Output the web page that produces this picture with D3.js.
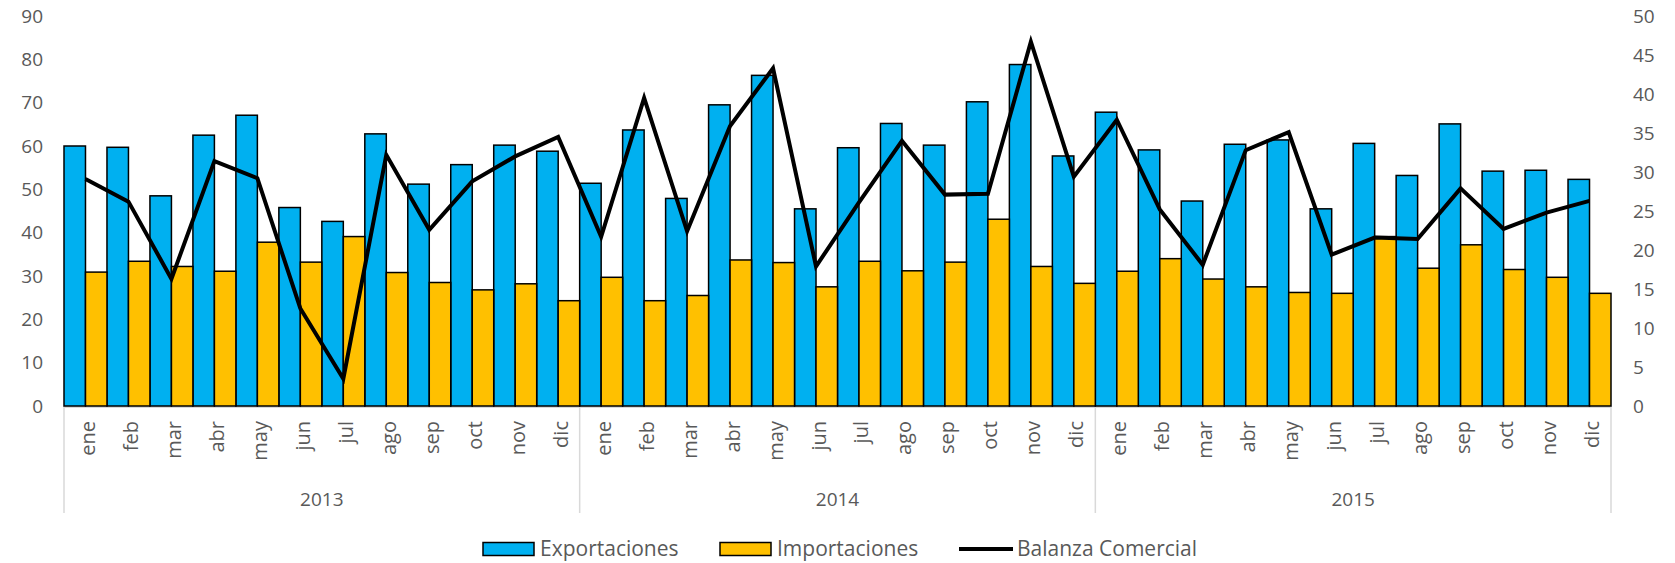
<!DOCTYPE html>
<html><head><meta charset="utf-8">
<script src="https://cdn.jsdelivr.net/npm/d3@7"></script>
<style>
body{margin:0;background:#fff;}
svg{display:block;}
text{font-family:"Open Sans",sans-serif;fill:#595959;}
</style>
</head><body>
<svg id="chart" width="1675" height="563"></svg>
<script>
const years = ["2013", "2014", "2015"];
const months = ["ene","feb","mar","abr","may","jun","jul","ago","sep","oct","nov","dic"];
const exportaciones = [
  60.0, 59.7, 48.5, 62.5, 67.1, 45.8, 42.6, 62.8, 51.2, 55.7, 60.2, 58.8,
  51.4, 63.7, 47.9, 69.5, 76.3, 45.5, 59.6, 65.2, 60.2, 70.2, 78.8, 57.7,
  67.8, 59.1, 47.3, 60.4, 61.4, 45.5, 60.6, 53.2, 65.1, 54.2, 54.4, 52.3
];
const importaciones = [
  30.9, 33.4, 32.2, 31.1, 37.8, 33.2, 39.1, 30.8, 28.5, 26.8, 28.2, 24.3,
  29.7, 24.3, 25.5, 33.7, 33.1, 27.5, 33.4, 31.2, 33.2, 43.1, 32.2, 28.3,
  31.1, 34.0, 29.3, 27.5, 26.2, 26.0, 39.1, 31.8, 37.2, 31.5, 29.7, 26.0
];
const balanza = [
  29.1, 26.2, 16.3, 31.4, 29.2, 12.5, 3.5, 32.2, 22.6, 28.8, 32.0, 34.5,
  21.7, 39.5, 22.4, 35.9, 43.3, 17.9, 26.1, 34.0, 27.1, 27.2, 46.7, 29.4,
  36.7, 25.2, 18.1, 32.8, 35.1, 19.4, 21.6, 21.4, 27.9, 22.7, 24.8, 26.3
];
const leftTicks = [0, 10, 20, 30, 40, 50, 60, 70, 80, 90];
const rightTicks = [0, 5, 10, 15, 20, 25, 30, 35, 40, 45, 50];
const seriesNames = ["Exportaciones", "Importaciones", "Balanza Comercial"];
const seriesColors = ["#00B0F0", "#FFC000", "#000000"];

const keys = [];
years.forEach(y => months.forEach(m => keys.push(y + "-" + m)));
const rows = keys.map((k, i) => ({key: k, year: k.split("-")[0], month: k.split("-")[1],
  exp: exportaciones[i], imp: importaciones[i], bal: balanza[i]}));

const svg = d3.select("#chart");
const plotL = 64, plotR = 1611, baseY = 406, topY = 16;

const x = d3.scaleBand().domain(keys).range([plotL, plotR]).padding(0);
const xs = d3.scaleBand().domain(["exp", "imp"]).range([0, x.bandwidth()]).padding(0);
const yL = d3.scaleLinear().domain([0, 90]).range([baseY, topY]);
const yR = d3.scaleLinear().domain([0, 50]).range([baseY, topY]);

// left axis
const gL = svg.append("g").attr("transform", `translate(${plotL},0)`)
  .call(d3.axisLeft(yL).tickValues(leftTicks).tickSize(0).tickPadding(21));
gL.select(".domain").remove();
gL.selectAll("text").style("font-size", "19px").style("font-family", "'Open Sans',sans-serif").attr("fill", "#595959");

// right axis
const gR = svg.append("g").attr("transform", `translate(${plotR},0)`)
  .call(d3.axisRight(yR).tickValues(rightTicks).tickSize(0).tickPadding(22));
gR.select(".domain").remove();
gR.selectAll("text").style("font-size", "19px").style("font-family", "'Open Sans',sans-serif").attr("fill", "#595959");

// x axis baseline
svg.append("line").attr("x1", plotL).attr("x2", plotR).attr("y1", baseY + 1).attr("y2", baseY + 1)
  .attr("stroke", "#d9d9d9").attr("stroke-width", 2);

// year separators
const sepX = [];
years.forEach(y => sepX.push(x(y + "-ene")));
sepX.push(x(years[years.length - 1] + "-dic") + x.bandwidth());
svg.append("g").selectAll("line").data(sepX).join("line")
  .attr("x1", d => d).attr("x2", d => d).attr("y1", baseY).attr("y2", 513)
  .attr("stroke", "#d9d9d9").attr("stroke-width", 1.5);

// month labels
const gX = svg.append("g").attr("transform", `translate(0,${baseY})`)
  .call(d3.axisBottom(x).tickSize(0).tickFormat(k => k.split("-")[1]));
gX.select(".domain").remove();
gX.selectAll("text")
  .attr("transform", "rotate(-90)")
  .attr("x", -15).attr("y", 9.5).attr("dy", 0)
  .attr("text-anchor", "end")
  .style("font-size", "20px").style("font-family", "'Open Sans',sans-serif").attr("fill", "#595959");

// year labels
svg.append("g").selectAll("text").data(years).join("text")
  .attr("x", y => (x(y + "-ene") + x(y + "-dic") + x.bandwidth()) / 2)
  .attr("y", 499).attr("dy", "0.35em").attr("text-anchor", "middle")
  .style("font-size", "19px").text(d => d);

// bars
const gBars = svg.append("g");
gBars.selectAll("rect.exp").data(rows).join("rect").attr("class", "exp")
  .attr("x", d => x(d.key) + xs("exp")).attr("width", xs.bandwidth())
  .attr("y", d => yL(d.exp)).attr("height", d => yL(0) - yL(d.exp))
  .attr("fill", seriesColors[0]).attr("stroke", "#000").attr("stroke-width", 1.5);
gBars.selectAll("rect.imp").data(rows).join("rect").attr("class", "imp")
  .attr("x", d => x(d.key) + xs("imp")).attr("width", xs.bandwidth())
  .attr("y", d => yL(d.imp)).attr("height", d => yL(0) - yL(d.imp))
  .attr("fill", seriesColors[1]).attr("stroke", "#000").attr("stroke-width", 1.5);

// line
const line = d3.line().x(d => x(d.key) + x.bandwidth() / 2).y(d => yR(d.bal));
svg.append("path").datum(rows).attr("d", line)
  .attr("fill", "none").attr("stroke", seriesColors[2]).attr("stroke-width", 4)
  .attr("stroke-linejoin", "miter");

// legend
const legY = 549;
const leg = svg.append("g");
const legItems = [
  {name: seriesNames[0], type: "rect", color: seriesColors[0], x: 483},
  {name: seriesNames[1], type: "rect", color: seriesColors[1], x: 720},
  {name: seriesNames[2], type: "line", color: seriesColors[2], x: 959}
];
legItems.forEach(it => {
  if (it.type === "rect") {
    leg.append("rect").attr("x", it.x).attr("y", legY - 6.5).attr("width", 51).attr("height", 13)
      .attr("fill", it.color).attr("stroke", "#000").attr("stroke-width", 1.5);
  } else {
    leg.append("line").attr("x1", it.x).attr("x2", it.x + 54).attr("y1", legY).attr("y2", legY)
      .attr("stroke", it.color).attr("stroke-width", 4);
  }
  leg.append("text").attr("x", it.x + (it.type === "rect" ? 57 : 58)).attr("y", legY)
    .attr("dy", "0.35em").style("font-size", "21px").text(it.name);
});
</script>
</body></html>
